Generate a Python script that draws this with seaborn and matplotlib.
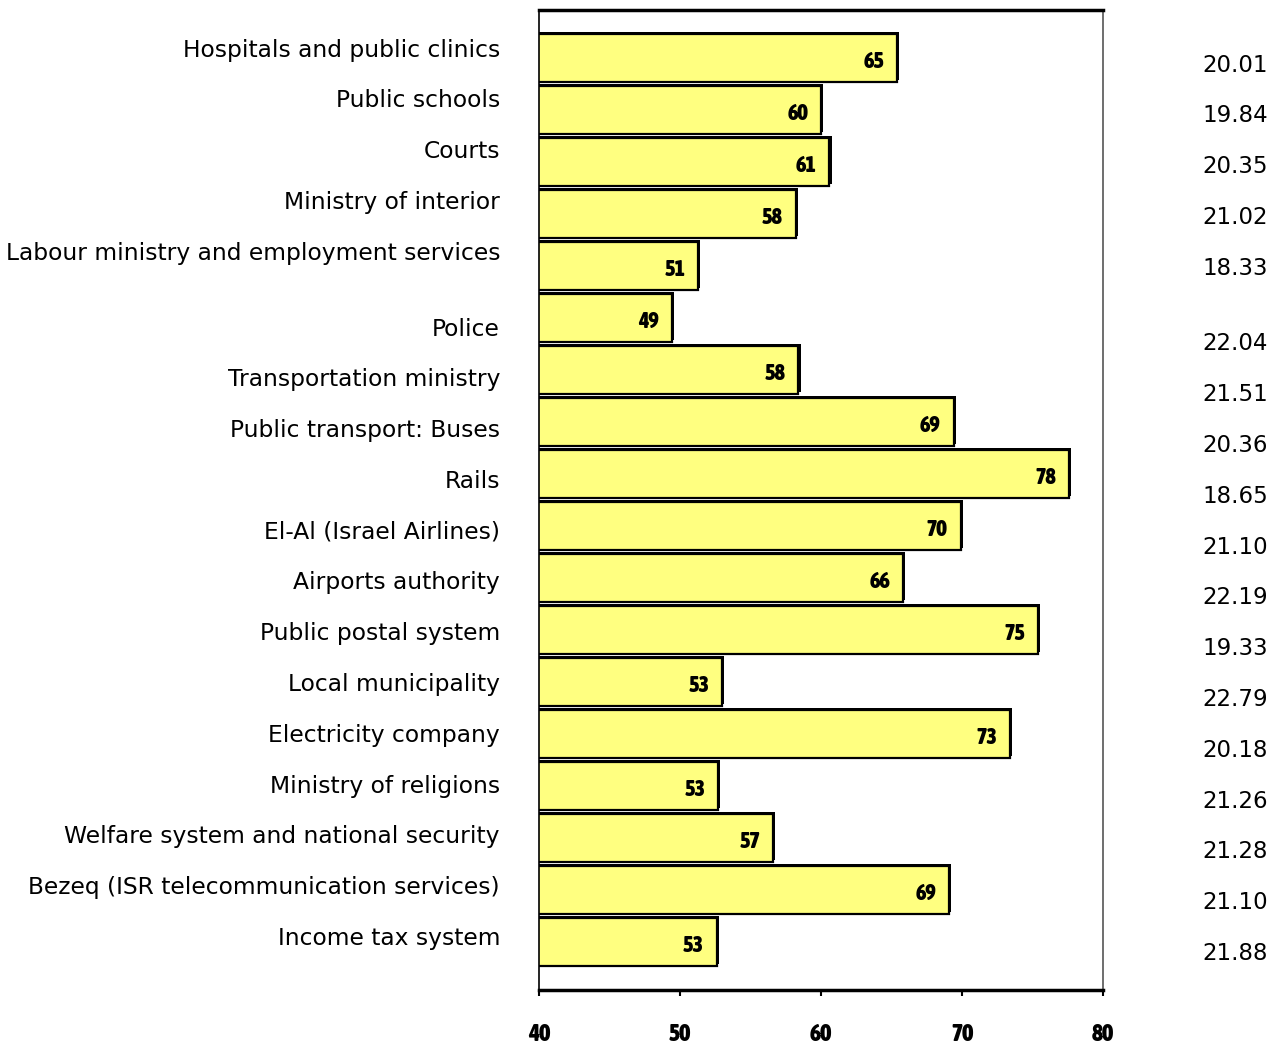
import matplotlib
matplotlib.use("Agg")
import matplotlib.pyplot as plt
import matplotlib.patheffects as pe
from matplotlib import font_manager
import seaborn as sns
import pandas as pd

services = [
    "Hospitals and public clinics",
    "Public schools",
    "Courts",
    "Ministry of interior",
    "Labour ministry and employment services",
    "Police",
    "Transportation ministry",
    "Public transport: Buses",
    "Rails",
    "El-Al (Israel Airlines)",
    "Airports authority",
    "Public postal system",
    "Local municipality",
    "Electricity company",
    "Ministry of religions",
    "Welfare system and national security",
    "Bezeq (ISR telecommunication services)",
    "Income tax system",
]
scores = [65.4, 60.0, 60.6, 58.2, 51.3, 49.4, 58.4, 69.4, 77.6,
          69.9, 65.8, 75.4, 53.0, 73.4, 52.7, 56.6, 69.1, 52.6]
side_values = ["20.01", "19.84", "20.35", "21.02", "18.33", "22.04",
               "21.51", "20.36", "18.65", "21.10", "22.19", "19.33",
               "22.79", "20.18", "21.26", "21.28", "21.10", "21.88"]
x_ticks = [40, 50, 60, 70, 80]

df = pd.DataFrame({"service": services, "score": scores})

sns.set_theme(style="white")
plt.rcParams["font.family"] = ["DejaVu Sans"]


def narrow_bold_font():
    """Pick a narrow / condensed bold face if one is installed."""
    cands = []
    for f in font_manager.fontManager.ttflist:
        name = f.name.lower()
        narrow = ("narrow" in name or "condensed" in name
                  or str(f.stretch) in ("condensed", "semi-condensed",
                                        "extra-condensed", "ultra-condensed"))
        w = f.weight if isinstance(f.weight, int) else 400
        if str(f.weight) == "bold":
            w = 700
        if narrow and w >= 600 and "italic" not in str(f.style).lower() \
                and "oblique" not in str(f.style).lower():
            cands.append(f)
    if cands:
        cands.sort(key=lambda f: ("liberation" not in f.name.lower(), f.name))
        return font_manager.FontProperties(fname=cands[0].fname)
    return font_manager.FontProperties(family="DejaVu Sans", weight="bold",
                                       stretch="condensed")


nfp = narrow_bold_font()

W, H = 1282, 1049
fig = plt.figure(figsize=(W / 100, H / 100), dpi=100)
ax = fig.add_axes([539 / W, 1 - 990 / H, (1103 - 539) / W, (990 - 10) / H])

sns.barplot(data=df, x="score", y="service", orient="h", color="#FFFF80",
            saturation=1, width=0.93, edgecolor="black", linewidth=1.6, ax=ax)

for patch in ax.patches:
    patch.set_path_effects([
        pe.SimplePatchShadow(offset=(1.5, 1.5), shadow_rgbFace="black", alpha=1.0),
        pe.Normal(),
    ])

# value labels inside the bar ends
for i, v in enumerate(scores):
    t = ax.text(v - 1.65, i + 0.08, f"{v:.0f}", ha="center", va="center",
                color="black")
    t.set_fontproperties(nfp)
    t.set_fontsize(16)

ax.set_xlim(40, 80)
ax.set_ylim(len(services) - 1 + 0.92, -0.92)
ax.set_xticks(x_ticks)
ax.set_xticklabels([str(t) for t in x_ticks])
for lbl in ax.get_xticklabels():
    lbl.set_fontproperties(nfp)
    lbl.set_fontsize(17)
    lbl.set_color("black")
ax.set_yticks([])
ax.set_xlabel("")
ax.set_ylabel("")
ax.tick_params(axis="x", direction="out", length=4, width=1.5, pad=20,
               bottom=True, color="black", labelcolor="black")

for side in ["top", "bottom"]:
    ax.spines[side].set_linewidth(2.5)
    ax.spines[side].set_color("black")
ax.spines["left"].set_linewidth(1.2)
ax.spines["left"].set_color("black")
ax.spines["right"].set_linewidth(1.2)
ax.spines["right"].set_color("#555555")

# category names on the left and the side column of figures on the right
for i, (name, val) in enumerate(zip(services, side_values)):
    gap = 25 if i >= 5 else 0
    y_left = 50 + 50.8 * i + gap
    y_right = 65 + 50.8 * i + gap
    fig.text(500 / W, 1 - y_left / H, name, ha="right", va="center",
             fontsize=16.8, color="black")
    fig.text(1268 / W, 1 - y_right / H, val, ha="right", va="center",
             fontsize=16.5, color="black")

fig.savefig("out.png", dpi=100, facecolor="white")
